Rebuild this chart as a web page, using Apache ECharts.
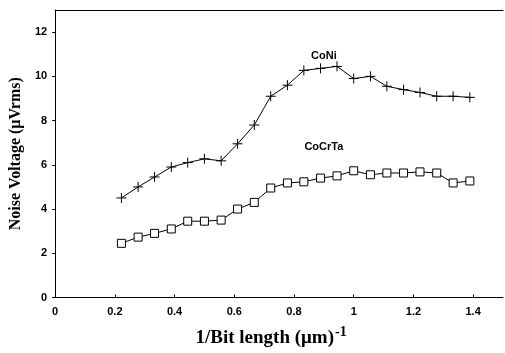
<!DOCTYPE html>
<html>
<head>
<meta charset="utf-8">
<script src="https://cdn.jsdelivr.net/npm/echarts@6/dist/echarts.min.js"></script>
<style>
  html, body { margin: 0; padding: 0; background: #fff; }
  #chart { width: 505px; height: 353px; }
</style>
</head>
<body>
<div id="chart"></div>
<script>
// 1/bit length (um^-1), shared by both media
const xValues = [0.222, 0.278, 0.333, 0.389, 0.444, 0.5, 0.556, 0.611, 0.667, 0.722, 0.778,
  0.833, 0.889, 0.944, 1.0, 1.056, 1.111, 1.167, 1.222, 1.278, 1.333, 1.389]
const coNi = [4.5, 5.0, 5.45, 5.9, 6.1, 6.27, 6.18, 6.95, 7.8, 9.1, 9.6,
  10.27, 10.36, 10.45, 9.9, 10.0, 9.55, 9.4, 9.27, 9.1, 9.1, 9.05]
const coCrTa = [2.45, 2.73, 2.9, 3.1, 3.45, 3.45, 3.5, 4.0, 4.3, 4.95, 5.18,
  5.23, 5.4, 5.5, 5.73, 5.55, 5.63, 5.63, 5.68, 5.63, 5.18, 5.27]
// where the curve names sit (data coords)
const coNiLabelAt = [0.9, 10.9]
const coCrTaLabelAt = [0.9, 6.8]

const tickFont = { fontFamily: 'Liberation Sans', fontWeight: 'bold', fontSize: 11, color: '#000' }
const plus = 'path://M5,0L5,10M0,5L10,5'

const chart = echarts.init(document.getElementById('chart'))
const zip = ys => xValues.map((x, i) => [x, ys[i]])

// invisible marker carrying the curve name as its label
function nameTag(text, coord) {
  return {
    symbol: 'rect',
    symbolSize: 1,
    silent: true,
    itemStyle: { color: 'rgba(0,0,0,0)', borderWidth: 0 },
    label: { show: true, formatter: text, position: 'inside', ...tickFont },
    data: [{ coord }]
  }
}

chart.setOption({
  animation: false,
  grid: { left: 55, right: 2, top: 10, bottom: 55 },
  xAxis: [{
    type: 'value',
    min: 0, max: 1.5, interval: 0.2,
    axisLine: { lineStyle: { color: '#000', width: 1 } },
    axisTick: { inside: true, length: 3, lineStyle: { color: '#000' } },
    axisLabel: { ...tickFont, margin: 9, showMaxLabel: false },
    splitLine: { show: false },
    name: '{a|1/Bit length (μm)}{s|-1}',
    nameLocation: 'middle',
    nameGap: 28,
    nameTextStyle: {
      padding: [0, 16, 0, 0],
      rich: {
        a: { fontFamily: 'Liberation Serif', fontWeight: 'bold', fontSize: 19, color: '#000' },
        s: { fontFamily: 'Liberation Serif', fontWeight: 'bold', fontSize: 14, color: '#000', verticalAlign: 'top', padding: [0, 0, 12, 1] }
      }
    }
  }, {
    type: 'value', position: 'top', min: 0, max: 1.5,
    axisLine: { show: true, lineStyle: { color: '#000', width: 1 } },
    axisTick: { show: false }, axisLabel: { show: false }, splitLine: { show: false }
  }],
  yAxis: {
    type: 'value',
    min: 0, max: 13, interval: 2,
    axisLine: { show: true, lineStyle: { color: '#000', width: 1 } },
    axisTick: { show: true, length: 3, lineStyle: { color: '#000' } },
    axisLabel: { ...tickFont, margin: 8, showMaxLabel: false },
    splitLine: { show: false },
    name: 'Noise Voltage (μVrms)',
    nameLocation: 'middle',
    nameGap: 31,
    nameTextStyle: { fontFamily: 'Liberation Serif', fontWeight: 'bold', fontSize: 16, color: '#000' }
  },
  series: [{
    name: 'CoNi',
    type: 'line',
    data: zip(coNi),
    symbol: plus,
    symbolSize: 10,
    lineStyle: { color: '#000', width: 1 },
    itemStyle: { color: '#000', borderColor: '#000', borderWidth: 1 },
    markPoint: nameTag('CoNi', coNiLabelAt)
  }, {
    name: 'CoCrTa',
    type: 'line',
    data: zip(coCrTa),
    symbol: 'rect',
    symbolSize: 8,
    lineStyle: { color: '#000', width: 1 },
    itemStyle: { color: '#fff', borderColor: '#000', borderWidth: 1 },
    markPoint: nameTag('CoCrTa', coCrTaLabelAt)
  }]
})
</script>
</body>
</html>
